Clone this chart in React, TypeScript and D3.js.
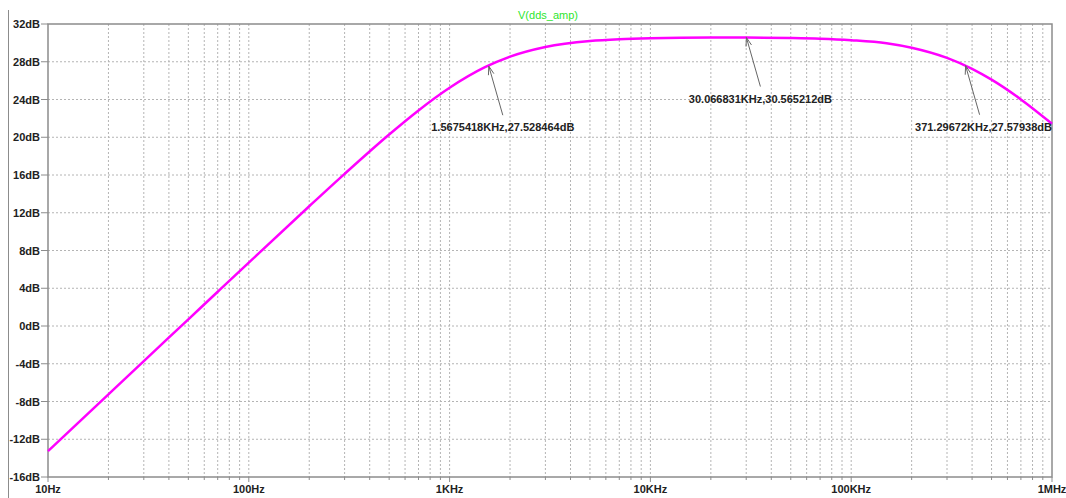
import React from "react";
import * as d3 from "d3";

// Frequency response of V(dds_amp): frequency (Hz) and magnitude (dB)
const freqs = [10, 20, 30, 50, 70, 100, 200, 300, 500, 700, 1000, 1500, 2000, 3000, 5000, 7000, 10000, 20000, 30000, 50000, 70000, 100000, 150000, 200000, 300000, 400000, 500000, 700000, 1000000];
const gains = [-13.26, -7.24, -3.72, 0.71, 3.63, 6.72, 12.69, 16.12, 20.29, 22.84, 25.24, 27.42, 28.54, 29.56, 30.2, 30.39, 30.49, 30.56, 30.56, 30.52, 30.45, 30.29, 29.97, 29.49, 28.41, 27.25, 26.1, 24.01, 21.43];

// Cursor read-outs
const cursorFreqs = [1567.5418, 30066.831, 371296.72];
const cursorGains = [27.528464, 30.565212, 27.57938];
const cursorLabels = ["1.5675418KHz,27.528464dB", "30.066831KHz,30.565212dB", "371.29672KHz,27.57938dB"];

const yTicks = [32, 28, 24, 20, 16, 12, 8, 4, 0, -4, -8, -12, -16];
const xDecades = [10, 100, 1000, 10000, 100000, 1000000];
const xDecadeLabels = ["10Hz", "100Hz", "1KHz", "10KHz", "100KHz", "1MHz"];
const title = "V(dds_amp)";

const W = 1066;
const H = 498;
const left = 48;
const right = 1052;
const top = 24;
const bottom = 477;

export default function App() {
  const x = d3.scaleLog().domain([10, 1e6]).range([left, right]);
  const y = d3.scaleLinear().domain([-16, 32]).range([bottom, top]);

  const minorFreqs: number[] = [];
  for (let d = 10; d < 1e6; d *= 10) {
    for (let k = 2; k <= 9; k++) minorFreqs.push(d * k);
  }

  const line = d3
    .line<number>()
    .x((_, i) => x(freqs[i]))
    .y((g) => y(g))
    .curve(d3.curveMonotoneX);

  const font = "'Liberation Sans', Arial, sans-serif";
  const grid = "#b4b4b4";
  const frame = "#8c8c8c";

  return (
    <svg
      width={W}
      height={H}
      style={{ position: "absolute", left: 0, top: 0, background: "#fff" }}
      fontFamily={font}
    >
      {/* window edge */}
      <line x1={8.5} x2={8.5} y1={10} y2={H} stroke={frame} strokeWidth={1} />

      {/* title */}
      <text x={548} y={19} textAnchor="middle" fontSize={11} fill="#2ee62e">
        {title}
      </text>

      {/* horizontal grid */}
      {yTicks.map((t) => (
        <g key={"y" + t}>
          {t !== 32 && t !== -16 && (
            <line x1={left} x2={right} y1={y(t)} y2={y(t)} stroke={grid} strokeWidth={1} strokeDasharray="2,2" />
          )}
          <line x1={left - 7} x2={left} y1={y(t)} y2={y(t)} stroke={frame} strokeWidth={1} />
          <text x={left - 8} y={y(t) + 4} textAnchor="end" fontSize={11} fontWeight="bold" fill="#222">
            {t + "dB"}
          </text>
        </g>
      ))}

      {/* vertical grid */}
      {minorFreqs.map((f) => (
        <g key={"m" + f}>
          <line x1={x(f)} x2={x(f)} y1={top} y2={bottom} stroke={grid} strokeWidth={1} strokeDasharray="2,2" />
          <line x1={x(f)} x2={x(f)} y1={bottom} y2={bottom + 3} stroke={frame} strokeWidth={1} />
        </g>
      ))}
      {xDecades.map((f, i) => (
        <g key={"d" + f}>
          {i > 0 && i < xDecades.length - 1 && (
            <line x1={x(f)} x2={x(f)} y1={top} y2={bottom} stroke={grid} strokeWidth={1} strokeDasharray="2,2" />
          )}
          <line x1={x(f)} x2={x(f)} y1={bottom} y2={bottom + 5} stroke={frame} strokeWidth={1} />
          <text x={x(f)} y={bottom + 16} textAnchor="middle" fontSize={11} fontWeight="bold" fill="#222">
            {xDecadeLabels[i]}
          </text>
        </g>
      ))}

      {/* plot frame */}
      <rect x={left} y={top} width={right - left} height={bottom - top} fill="none" stroke={frame} strokeWidth={1.5} />

      {/* response curve */}
      <path d={line(gains) || ""} fill="none" stroke="#ff00ff" strokeWidth={2.5} />

      {/* cursor annotations */}
      {cursorFreqs.map((f, i) => {
        const px = x(f);
        const py = y(cursorGains[i]);
        const tx = px + 14;
        const ty = py + 49;
        const ang = Math.atan2(ty - py, tx - px);
        const ah = 9;
        const spread = 0.32;
        const a1x = px + ah * Math.cos(ang - spread);
        const a1y = py + ah * Math.sin(ang - spread);
        const a2x = px + ah * Math.cos(ang + spread);
        const a2y = py + ah * Math.sin(ang + spread);
        return (
          <g key={"c" + i}>
            <line x1={tx} x2={px} y1={ty} y2={py} stroke="#666" strokeWidth={1} />
            <polyline points={`${a1x},${a1y} ${px},${py} ${a2x},${a2y}`} fill="none" stroke="#666" strokeWidth={1} />
            <text
              x={i === 2 ? right : px + 14}
              y={py + 65}
              textAnchor={i === 2 ? "end" : "middle"}
              fontSize={11}
              fontWeight="bold"
              fill="#222"
            >
              {cursorLabels[i]}
            </text>
          </g>
        );
      })}
    </svg>
  );
}
